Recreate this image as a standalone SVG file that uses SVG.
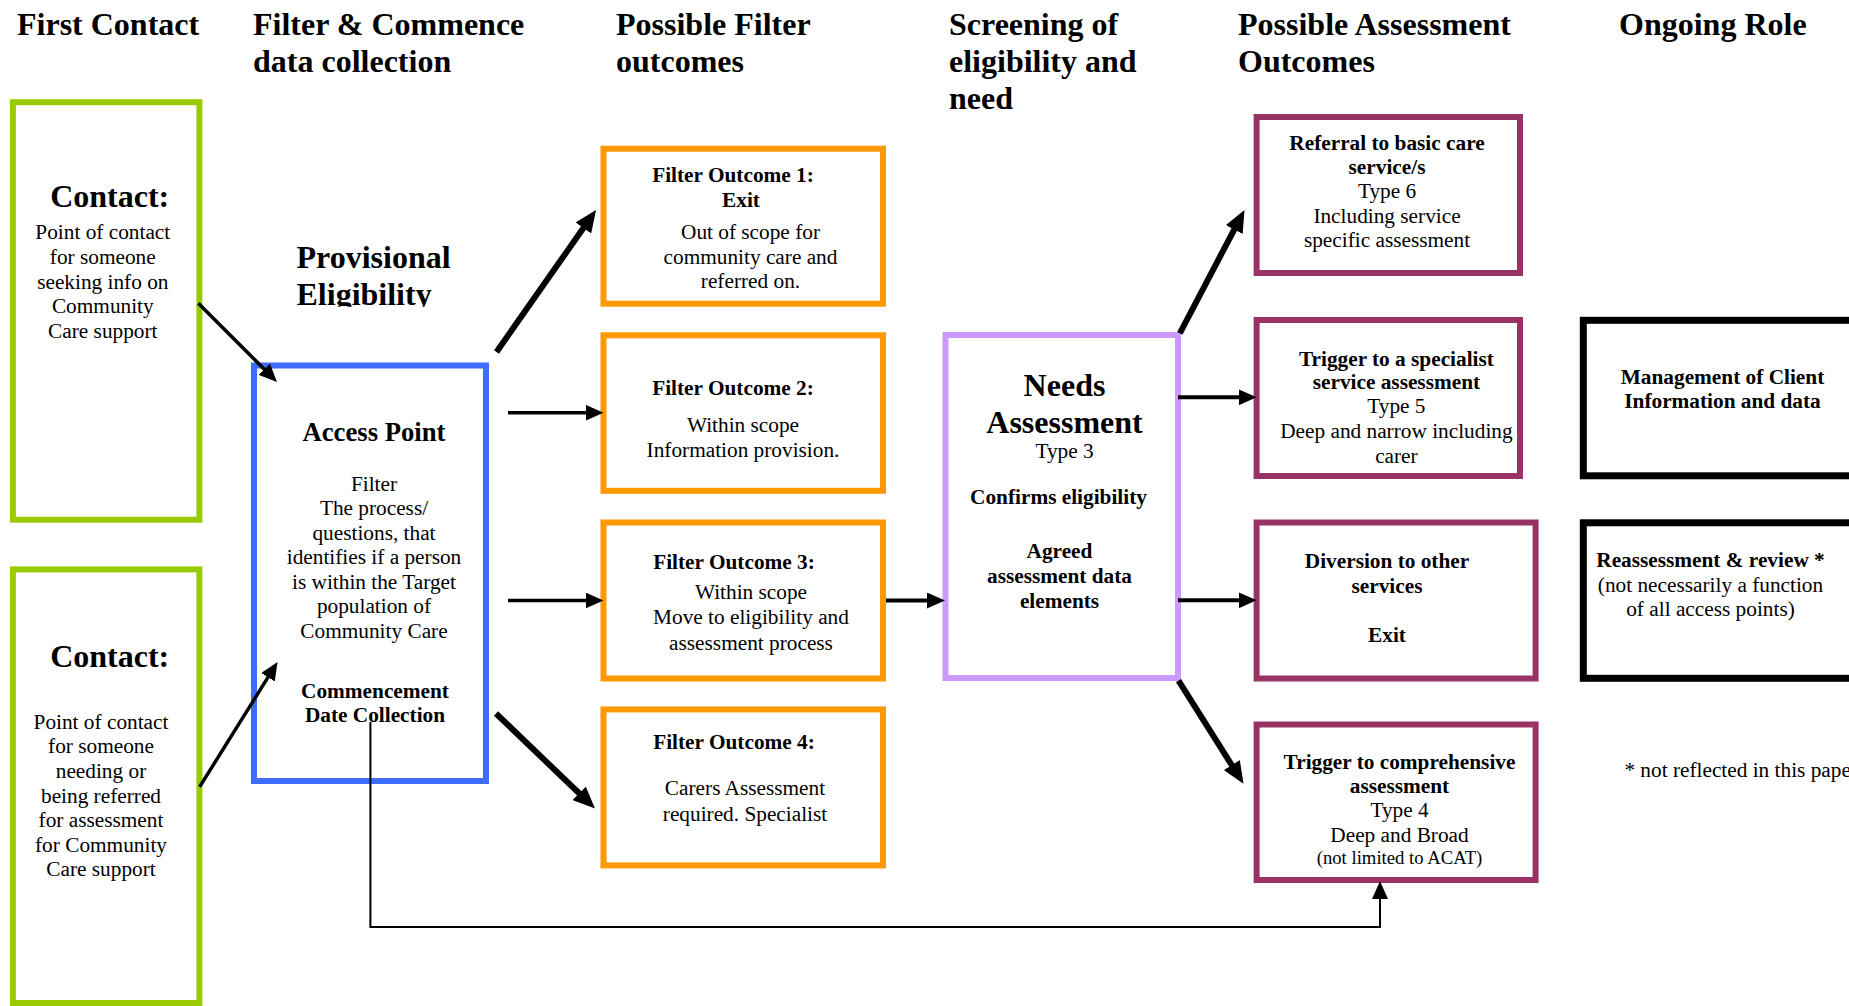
<svg xmlns="http://www.w3.org/2000/svg" width="1849" height="1006" viewBox="0 0 1849 1006">
<style>
text{font-family:"Liberation Serif","Times New Roman",serif;fill:#000}
.h{font-size:32px;font-weight:bold}
.big{font-size:32px;font-weight:bold;text-anchor:middle}
.t{font-size:21.3px;text-anchor:middle}
.b{font-size:21.3px;font-weight:bold;text-anchor:middle}
.s{font-size:18.7px;text-anchor:middle}
.box{fill:#fff;stroke-width:6}
.green{stroke:#99CC00}
.blue{stroke:#3F6CFF}
.orange{stroke:#FF9900}
.lav{stroke:#CC99FF}
.mag{stroke:#993366}
.blk{stroke:#000;stroke-width:7}
.ln{fill:none;stroke:#000;stroke-width:3.5}
.lnb{fill:none;stroke:#000;stroke-width:6}
.lnt{fill:none;stroke:#000;stroke-width:2}
</style>
<defs>
<marker id="ah" markerUnits="userSpaceOnUse" markerWidth="18" markerHeight="16" viewBox="0 0 18 16" refX="4" refY="8" orient="auto"><path d="M0,0 L18,8 L0,16 z" fill="#000"/></marker>
<marker id="ahb" markerUnits="userSpaceOnUse" markerWidth="22" markerHeight="19" viewBox="0 0 22 19" refX="4" refY="9.5" orient="auto"><path d="M0,0 L22,9.5 L0,19 z" fill="#000"/></marker>
<clipPath id="provClip"><rect x="280" y="230" width="200" height="76.8"/></clipPath>
</defs>
<rect width="1849" height="1006" fill="#fff"/>

<g id="headers">
<text class="h" x="17" y="35">First Contact</text>
<text class="h" x="253" y="35">Filter &amp; Commence</text>
<text class="h" x="253" y="72">data collection</text>
<text class="h" x="616" y="35">Possible Filter</text>
<text class="h" x="616" y="72">outcomes</text>
<text class="h" x="949" y="35">Screening of</text>
<text class="h" x="949" y="72">eligibility and</text>
<text class="h" x="949" y="109">need</text>
<text class="h" x="1238" y="35">Possible Assessment</text>
<text class="h" x="1238" y="72">Outcomes</text>
<text class="h" x="1619" y="35">Ongoing Role</text>
</g>

<g id="provisional-eligibility" clip-path="url(#provClip)">
<text class="h" x="296.5" y="268.3">Provisional</text>
<text class="h" x="296.5" y="305">Eligibility</text>
</g>

<g id="contact1">
<rect class="box green" x="12.9" y="102.2" width="186.5" height="417.5"/>
<text class="big" x="109.7" y="207.3">Contact:</text>
<text class="t" x="102.8" y="239.3">Point of contact</text>
<text class="t" x="102.8" y="264">for someone</text>
<text class="t" x="102.8" y="288.7">seeking info on</text>
<text class="t" x="102.8" y="313.4">Community</text>
<text class="t" x="102.8" y="338.1">Care support</text>
</g>

<g id="contact2">
<rect class="box green" x="12.9" y="569.4" width="186.5" height="433.6"/>
<text class="big" x="109.7" y="667">Contact:</text>
<text class="t" x="101" y="728.7">Point of contact</text>
<text class="t" x="101" y="753.3">for someone</text>
<text class="t" x="101" y="777.9">needing or</text>
<text class="t" x="101" y="802.5">being referred</text>
<text class="t" x="101" y="827.1">for assessment</text>
<text class="t" x="101" y="851.7">for Community</text>
<text class="t" x="101" y="876.3">Care support</text>
</g>

<g id="access-point">
<rect class="box blue" x="254" y="365.5" width="232" height="415.5"/>
<text class="b" x="374" y="440.7" style="font-size:26.7px">Access Point</text>
<text class="t" x="374" y="490.8">Filter</text>
<text class="t" x="374" y="515.3">The process/</text>
<text class="t" x="374" y="539.7">questions, that</text>
<text class="t" x="374" y="564.2">identifies if a person</text>
<text class="t" x="374" y="588.6">is within the Target</text>
<text class="t" x="374" y="613.1">population of</text>
<text class="t" x="374" y="637.5">Community Care</text>
<text class="b" x="375" y="697.7">Commencement</text>
<text class="b" x="375" y="722.3">Date Collection</text>
</g>

<g id="filter-outcome-1">
<rect class="box orange" x="603.5" y="148.7" width="279.5" height="155"/>
<text class="b" x="733" y="181.7">Filter Outcome 1:</text>
<text class="b" x="741" y="207.3">Exit</text>
<text class="t" x="750.5" y="239.3">Out of scope for</text>
<text class="t" x="750.5" y="264.3">community care and</text>
<text class="t" x="750.5" y="288.3">referred on.</text>
</g>

<g id="filter-outcome-2">
<rect class="box orange" x="603.5" y="335.3" width="279.5" height="155.5"/>
<text class="b" x="733" y="395">Filter Outcome 2:</text>
<text class="t" x="743" y="431.7">Within scope</text>
<text class="t" x="743" y="456.7">Information provision.</text>
</g>

<g id="filter-outcome-3">
<rect class="box orange" x="603.5" y="522.5" width="279.5" height="156"/>
<text class="b" x="734" y="569">Filter Outcome 3:</text>
<text class="t" x="751" y="599">Within scope</text>
<text class="t" x="751" y="624.3">Move to eligibility and</text>
<text class="t" x="751" y="649.5">assessment process</text>
</g>

<g id="filter-outcome-4">
<rect class="box orange" x="603.5" y="709.4" width="279.5" height="156"/>
<text class="b" x="734" y="748.5">Filter Outcome 4:</text>
<text class="t" x="745" y="795.4">Carers Assessment</text>
<text class="t" x="745" y="820.6">required. Specialist</text>
</g>

<g id="needs-assessment">
<rect class="box lav" x="945.5" y="335" width="232.5" height="343"/>
<text class="big" x="1064.5" y="396">Needs</text>
<text class="big" x="1064.5" y="432.7">Assessment</text>
<text class="t" x="1064.5" y="458.3">Type 3</text>
<text class="b" x="1058.5" y="503.5">Confirms eligibility</text>
<text class="b" x="1059.5" y="557.9">Agreed</text>
<text class="b" x="1059.5" y="583">assessment data</text>
<text class="b" x="1059.5" y="608.2">elements</text>
</g>

<g id="referral-basic-care">
<rect class="box mag" x="1256.6" y="117" width="263.4" height="156"/>
<text class="b" x="1387" y="150">Referral to basic care</text>
<text class="b" x="1387" y="174">service/s</text>
<text class="t" x="1387" y="198.3">Type 6</text>
<text class="t" x="1387" y="222.7">Including service</text>
<text class="t" x="1387" y="246.7">specific assessment</text>
</g>

<g id="trigger-specialist">
<rect class="box mag" x="1256.6" y="320" width="263.4" height="156"/>
<text class="b" x="1396.4" y="366">Trigger to a specialist</text>
<text class="b" x="1396.4" y="389.3">service assessment</text>
<text class="t" x="1396.4" y="413.3">Type 5</text>
<text class="t" x="1396.4" y="438.3">Deep and narrow including</text>
<text class="t" x="1396.4" y="462.7">carer</text>
</g>

<g id="diversion">
<rect class="box mag" x="1256.6" y="522.5" width="279" height="156"/>
<text class="b" x="1387" y="568">Diversion to other</text>
<text class="b" x="1387" y="593">services</text>
<text class="b" x="1387" y="641.7">Exit</text>
</g>

<g id="trigger-comprehensive">
<rect class="box mag" x="1256.6" y="724.5" width="279" height="155.5"/>
<text class="b" x="1399.5" y="768.6">Trigger to comprehensive</text>
<text class="b" x="1399.5" y="792.8">assessment</text>
<text class="t" x="1399.5" y="816.6">Type 4</text>
<text class="t" x="1399.5" y="841.7">Deep and Broad</text>
<text class="s" x="1399.5" y="864.2">(not limited to ACAT)</text>
</g>

<g id="management-client-info">
<rect class="box blk" x="1583.3" y="320.3" width="300" height="155.5"/>
<text class="b" x="1722.5" y="384">Management of Client</text>
<text class="b" x="1722.5" y="408.3">Information and data</text>
</g>

<g id="reassessment-review">
<rect class="box blk" x="1583.3" y="522.8" width="300" height="155.5"/>
<text class="b" x="1710.5" y="567.2">Reassessment &amp; review *</text>
<text class="t" x="1710.5" y="591.7">(not necessarily a function</text>
<text class="t" x="1710.5" y="616">of all access points)</text>
</g>

<g id="footnote">
<text x="1624.4" y="777" style="font-size:21.3px">* not reflected in this paper</text>
</g>

<g id="connectors">
<line class="ln" x1="198.3" y1="303.3" x2="267.1" y2="372.1" marker-end="url(#ah)"/>
<line class="ln" x1="199.6" y1="786.9" x2="270.1" y2="673.9" marker-end="url(#ah)"/>
<line class="lnb" x1="496.5" y1="352" x2="585.7" y2="224.7" marker-end="url(#ahb)"/>
<line class="ln" x1="508" y1="412.7" x2="589.5" y2="412.7" marker-end="url(#ah)"/>
<line class="ln" x1="508" y1="600.5" x2="589.5" y2="600.5" marker-end="url(#ah)"/>
<line class="lnb" x1="496" y1="713.5" x2="582" y2="796" marker-end="url(#ahb)"/>
<line class="ln" x1="886" y1="600.5" x2="931" y2="600.5" marker-end="url(#ah)" style="stroke-width:4"/>
<line class="lnb" x1="1179.8" y1="333.3" x2="1236.1" y2="226" marker-end="url(#ahb)"/>
<line class="ln" x1="1178" y1="397.3" x2="1242.7" y2="397.3" marker-end="url(#ah)" style="stroke-width:4"/>
<line class="ln" x1="1178" y1="600.3" x2="1242.7" y2="600.3" marker-end="url(#ah)" style="stroke-width:4"/>
<line class="lnb" x1="1178.5" y1="680.7" x2="1233.9" y2="768.5" marker-end="url(#ahb)"/>
<path class="lnt" d="M370.4,722 V927 H1380 V895" marker-end="url(#ah)"/>
</g>
</svg>
